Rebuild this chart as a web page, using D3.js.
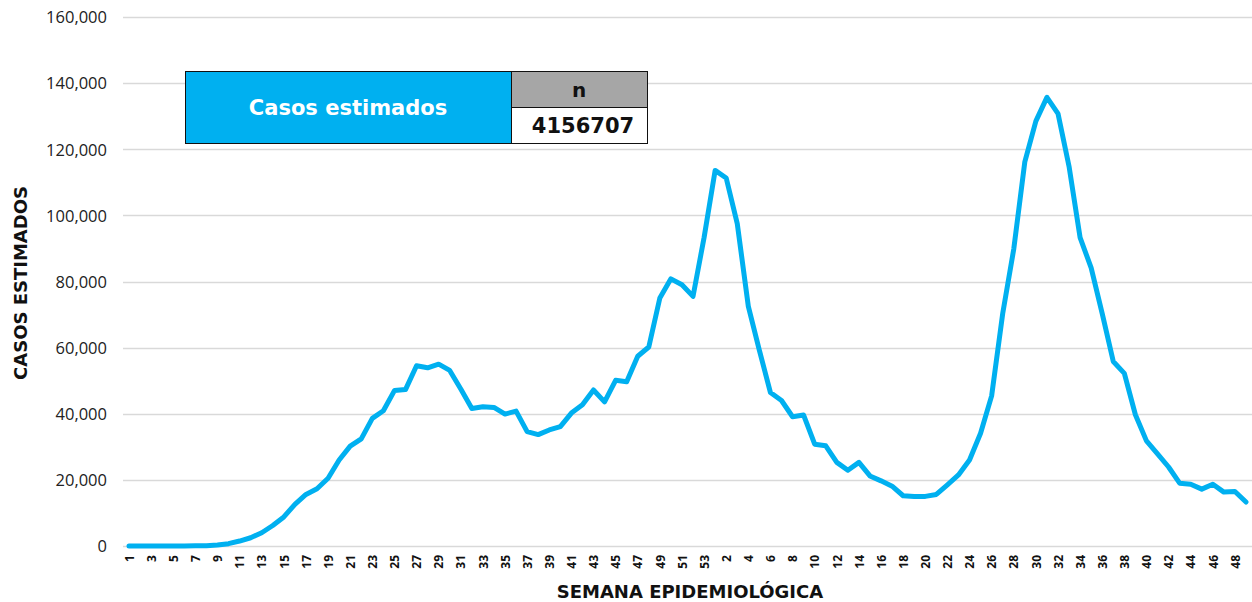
<!DOCTYPE html>
<html>
<head>
<meta charset="utf-8">
<script src="https://cdn.jsdelivr.net/npm/d3@7"></script>
<style>
  body { margin: 0; background: #fff; }
  svg { display: block; font-family: "Open Sans", "DejaVu Sans", sans-serif; }
</style>
</head>
<body>
<svg id="chart" width="1252" height="602"></svg>
<script>
// Epidemiological weeks: 2020 weeks 1-53, then 2021 weeks 1-49
const weeks2020 = d3.range(1, 54);
const weeks2021 = d3.range(1, 50);
const categories = weeks2020.map(w => "2020-" + w).concat(weeks2021.map(w => "2021-" + w));
const weekLabels = weeks2020.concat(weeks2021);

const values2020 = [
  0, 0, 0, 0, 0, 0, 50, 100, 300, 700,
  1500, 2500, 4000, 6200, 8800, 12600, 15600, 17300, 20500, 26000,
  30200, 32400, 38600, 40900, 47000, 47300, 54500, 53900, 55000, 53100,
  47500, 41600, 42100, 41900, 39900, 40800, 34600, 33700, 35100, 36100,
  40200, 42700, 47200, 43600, 50100, 49700, 57400, 60200, 75000, 80800,
  79000, 75500, 93300
];
const values2021 = [
  113600, 111300, 97500, 72500, 59200, 46400, 44000, 39100, 39600, 30800,
  30300, 25300, 22900, 25300, 21200, 19700, 18100, 15200, 15000, 15000,
  15600, 18500, 21500, 26000, 34100, 45400, 70300, 89800, 116200, 128500,
  135700, 130800, 114800, 93300, 84100, 70300, 55800, 52200, 39700, 31800,
  27900, 23900, 19000, 18700, 17200, 18700, 16300, 16500, 13300
];
const values = values2020.concat(values2021);

const yTicks = [0, 20000, 40000, 60000, 80000, 100000, 120000, 140000, 160000];
const tableHeader = "Casos estimados";
const tableColHeader = "n";
const tableTotal = "4156707";
const yTitle = "CASOS ESTIMADOS";
const xTitle = "SEMANA EPIDEMIOLÓGICA";

const svg = d3.select("#chart");
const boldFont = "'DejaVu Sans', 'Open Sans', sans-serif";

const x = d3.scalePoint()
  .domain(categories)
  .range([129, 1246]);

const y = d3.scaleLinear()
  .domain([0, 160000])
  .range([546, 17]);

// gridlines
svg.append("g")
  .selectAll("line")
  .data(yTicks)
  .join("line")
  .attr("x1", 123).attr("x2", 1252)
  .attr("y1", d => Math.round(y(d)) + 0.5)
  .attr("y2", d => Math.round(y(d)) + 0.5)
  .attr("stroke", "#d9d9d9")
  .attr("stroke-width", 1.3);

// y axis labels
const yAxis = d3.axisLeft(y).tickValues(yTicks).tickSize(0).tickPadding(0)
  .tickFormat(d3.format(","));
const gy = svg.append("g").attr("transform", "translate(107,0)").call(yAxis);
gy.select(".domain").remove();
gy.selectAll("text")
  .attr("font-family", "'Open Sans', sans-serif")
  .attr("font-size", 16.5)
  .attr("fill", "#222")
  .attr("dy", "0.35em");

// x axis labels (every other week)
const xAxis = d3.axisBottom(x)
  .tickValues(categories.filter((c, i) => i % 2 === 0))
  .tickSize(0)
  .tickFormat(c => weekLabels[categories.indexOf(c)]);
const gx = svg.append("g").attr("transform", "translate(0,555)").call(xAxis);
gx.select(".domain").remove();
gx.selectAll("text")
  .attr("font-family", "'Open Sans', sans-serif")
  .attr("font-weight", "bold")
  .attr("font-size", 12)
  .attr("fill", "#111")
  .attr("transform", "rotate(-90)")
  .attr("text-anchor", "end")
  .attr("x", 0)
  .attr("y", 0)
  .attr("dy", "0.35em");

// line
const line = d3.line()
  .x((d, i) => x(categories[i]))
  .y(d => y(d));
svg.append("path")
  .datum(values)
  .attr("d", line)
  .attr("fill", "none")
  .attr("stroke", "#00B0F0")
  .attr("stroke-width", 5)
  .attr("stroke-linejoin", "round")
  .attr("stroke-linecap", "round");

// axis titles
svg.append("text")
  .attr("x", 690).attr("y", 598)
  .attr("text-anchor", "middle")
  .attr("font-family", boldFont)
  .attr("font-weight", "bold")
  .attr("font-size", 18)
  .attr("fill", "#111")
  .text(xTitle);

svg.append("text")
  .attr("transform", "translate(27,283) rotate(-90)")
  .attr("text-anchor", "middle")
  .attr("font-family", boldFont)
  .attr("font-weight", "bold")
  .attr("font-size", 18)
  .attr("fill", "#111")
  .text(yTitle);

// summary table
const tbl = svg.append("g");
tbl.append("rect").attr("x", 185.5).attr("y", 71.5).attr("width", 326).attr("height", 72)
  .attr("fill", "#00B0F0").attr("stroke", "#111").attr("stroke-width", 1);
tbl.append("rect").attr("x", 511.5).attr("y", 71.5).attr("width", 136).attr("height", 36)
  .attr("fill", "#A6A6A6").attr("stroke", "#111").attr("stroke-width", 1);
tbl.append("rect").attr("x", 511.5).attr("y", 107.5).attr("width", 136).attr("height", 36)
  .attr("fill", "#ffffff").attr("stroke", "#111").attr("stroke-width", 1);
tbl.append("text").attr("x", 348).attr("y", 108).attr("dy", "0.35em")
  .attr("text-anchor", "middle").attr("font-family", boldFont).attr("font-weight", "bold").attr("font-size", 21)
  .attr("fill", "#ffffff").text(tableHeader);
tbl.append("text").attr("x", 579).attr("y", 90).attr("dy", "0.35em")
  .attr("text-anchor", "middle").attr("font-family", boldFont).attr("font-weight", "bold").attr("font-size", 20)
  .attr("fill", "#111").text(tableColHeader);
tbl.append("text").attr("x", 583).attr("y", 126).attr("dy", "0.35em")
  .attr("text-anchor", "middle").attr("font-family", boldFont).attr("font-weight", "bold").attr("font-size", 21)
  .attr("fill", "#111").text(tableTotal);
</script>
</body>
</html>
